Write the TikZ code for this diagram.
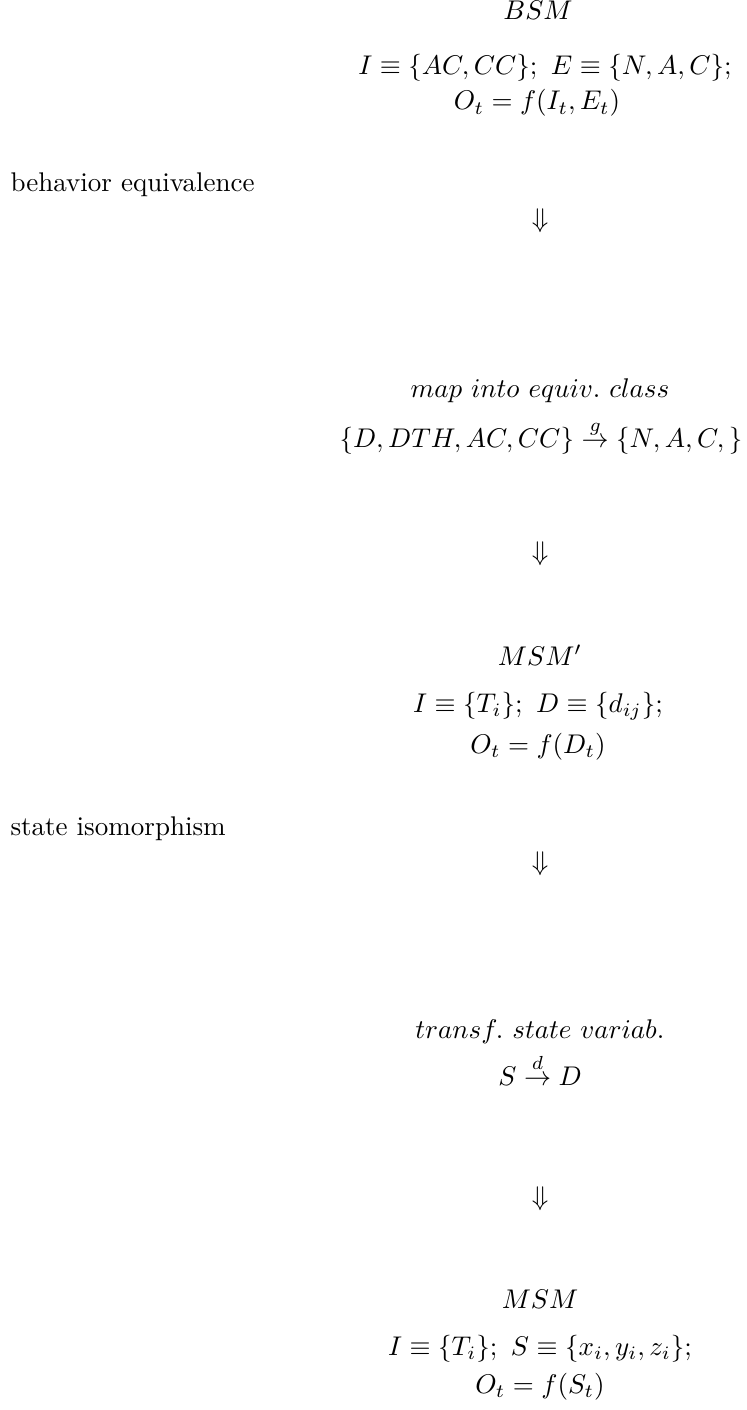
\documentclass[tikz,border=0pt]{standalone}
\begin{document}
\begin{tikzpicture}[x=0.37pt,y=-0.37pt,
  txt/.style={inner sep=0pt,anchor=base},
  lab/.style={inner sep=0pt,anchor=base west}]
\useasboundingbox (0,0) rectangle (746,1410);
% block 1
\node[txt] (b1t) at (538,20) {$BSM$};
\node[txt] (b1a) at (545,75) {$I\equiv\{AC,CC\};\ E\equiv\{N,A,C\};$};
\node[txt] (b1b) at (537,110) {$O_t=f(I_t,E_t)$};
\node[lab] (l1) at (10,192) {behavior equivalence};
\node[txt] (d1) at (540,228) {$\Downarrow$};
% block 2
\node[txt] (b2t) at (540,398) {$map\ into\ equiv.\ class$};
\node[txt] (b2a) at (541,448) {$\{D,DTH,AC,CC\}\stackrel{g}{\rightarrow}\{N,A,C,\}$};
\node[txt] (d2) at (540,560) {$\Downarrow$};
% block 3
\node[txt] (b3t) at (540,665) {$MSM'$};
\node[txt] (b3a) at (538,712) {$I\equiv\{T_i\};\ D\equiv\{d_{ij}\};$};
\node[txt] (b3b) at (538,753) {$O_t=f(D_t)$};
\node[lab] (l2) at (10,835) {state isomorphism};
\node[txt] (d3) at (540,870) {$\Downarrow$};
% block 4
\node[txt] (b4t) at (540,1038) {$transf.\ state\ variab.$};
\node[txt] (b4a) at (540,1085) {$S\stackrel{d}{\rightarrow}D$};
\node[txt] (d4) at (540,1205) {$\Downarrow$};
% block 5
\node[txt] (b5t) at (540,1308) {$MSM$};
\node[txt] (b5a) at (540,1355) {$I\equiv\{T_i\};\ S\equiv\{x_i,y_i,z_i\};$};
\node[txt] (b5b) at (540,1393) {$O_t=f(S_t)$};
\end{tikzpicture}
\end{document}
